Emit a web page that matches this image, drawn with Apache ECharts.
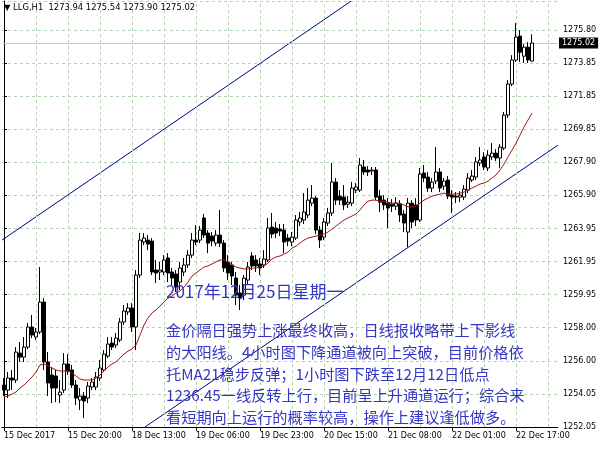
<!DOCTYPE html>
<html><head><meta charset="utf-8">
<script src="https://cdn.jsdelivr.net/npm/echarts@6/dist/echarts.min.js"></script>
<style>html,body{margin:0;padding:0;background:#fff}#c{width:600px;height:450px}</style>
</head><body><div id="c"></div>
<script>
// ---- data (H1 bars, LLG) ----
const barOpen = [1254.56,1254.26,1254.98,1254.86,1256.47,1256.23,1256.83,1258.03,1257.43,1257.73,1259.52,1255.94,1255.16,1255.10,1253.96,1254.26,1255.82,1255.46,1254.56,1253.66,1253.90,1253.78,1254.44,1254.44,1254.98,1255.46,1256.29,1257.07,1256.95,1257.25,1258.33,1258.93,1259.17,1258.03,1261.14,1263.11,1263.23,1263.17,1261.44,1261.32,1261.32,1262.16,1261.32,1261.20,1260.72,1261.32,1261.74,1262.33,1263.23,1263.23,1264.55,1263.65,1263.47,1263.05,1263.53,1263.05,1261.92,1261.74,1260.96,1260.06,1259.94,1260.84,1262.28,1262.04,1261.80,1261.74,1262.04,1264.01,1263.95,1263.89,1263.83,1263.35,1263.11,1263.35,1264.31,1264.43,1264.73,1265.44,1265.74,1263.83,1263.41,1264.25,1264.85,1266.70,1265.86,1265.80,1265.38,1265.44,1266.22,1266.22,1267.60,1267.42,1267.36,1267.42,1265.86,1265.62,1265.44,1265.38,1265.26,1265.38,1264.79,1263.71,1265.44,1265.33,1264.43,1267.24,1267.00,1266.34,1266.76,1267.30,1266.46,1266.82,1265.92,1265.86,1265.80,1265.80,1266.22,1266.82,1267.00,1267.84,1268.20,1267.54,1268.20,1268.43,1268.14,1268.73,1270.71,1272.56,1274.00,1275.43,1274.23,1274.77,1273.94];
const barClose = [1254.26,1254.98,1254.86,1256.53,1256.23,1256.83,1258.03,1257.55,1257.73,1259.52,1255.94,1254.68,1254.38,1254.38,1254.14,1255.82,1255.40,1254.56,1253.78,1253.90,1253.60,1254.50,1254.74,1255.04,1255.58,1256.41,1257.01,1256.83,1257.37,1258.33,1258.99,1259.17,1258.03,1261.14,1263.23,1263.35,1262.99,1261.32,1261.26,1261.44,1262.04,1261.26,1260.96,1260.42,1261.56,1261.74,1262.33,1263.23,1263.11,1263.83,1263.53,1263.05,1263.17,1263.53,1263.05,1261.56,1261.26,1261.08,1259.94,1259.76,1260.96,1261.62,1261.68,1261.68,1261.56,1262.10,1263.95,1263.59,1263.65,1263.77,1263.11,1263.17,1263.41,1264.43,1264.55,1264.91,1265.62,1265.74,1263.83,1263.23,1264.31,1264.85,1266.70,1265.62,1265.62,1265.33,1265.50,1266.34,1266.40,1267.72,1267.30,1267.30,1267.42,1265.80,1265.50,1265.33,1265.15,1265.26,1265.44,1264.73,1264.25,1265.44,1264.31,1264.43,1267.18,1266.94,1266.34,1266.70,1267.30,1266.34,1266.76,1265.86,1265.80,1265.80,1265.92,1266.28,1266.94,1267.06,1267.90,1268.02,1267.60,1268.31,1268.43,1268.14,1268.79,1270.71,1272.56,1274.00,1275.37,1274.47,1274.77,1274.00,1275.02];
const barLow = [1253.90,1253.78,1254.26,1254.68,1255.94,1255.94,1256.71,1257.37,1257.25,1257.61,1255.46,1253.90,1253.48,1253.54,1253.48,1254.08,1255.16,1254.38,1253.36,1253.07,1252.59,1253.48,1254.26,1254.26,1254.80,1255.34,1256.18,1256.65,1256.77,1257.13,1258.15,1258.75,1257.73,1256.65,1260.96,1262.93,1262.63,1261.14,1260.66,1260.84,1261.14,1260.72,1260.54,1260.12,1260.24,1261.08,1261.56,1262.16,1262.93,1263.05,1263.35,1262.45,1262.87,1262.87,1262.81,1261.32,1260.84,1260.54,1259.35,1259.05,1259.64,1260.60,1261.44,1261.32,1261.14,1261.56,1261.92,1263.35,1263.35,1263.47,1262.45,1262.87,1262.87,1263.23,1264.07,1264.19,1264.55,1265.26,1263.59,1262.75,1263.23,1264.07,1264.67,1265.33,1265.33,1265.03,1265.15,1265.26,1266.04,1266.10,1267.12,1267.06,1267.12,1265.62,1264.91,1265.03,1263.95,1264.91,1265.03,1264.31,1263.71,1262.81,1263.95,1264.07,1264.31,1266.70,1266.10,1266.10,1266.58,1266.10,1266.22,1265.68,1264.85,1265.44,1265.50,1265.62,1266.04,1266.70,1266.82,1267.66,1267.42,1267.36,1268.02,1267.96,1267.54,1268.61,1270.53,1272.44,1273.88,1273.88,1273.82,1273.82,1273.90];
const barHigh = [1254.98,1255.34,1255.46,1256.83,1257.13,1257.43,1258.27,1258.75,1257.97,1261.62,1259.76,1256.53,1255.64,1255.46,1254.86,1256.47,1256.41,1255.76,1254.86,1254.38,1254.14,1254.74,1254.98,1255.34,1256.06,1256.65,1257.43,1257.43,1257.67,1258.57,1259.35,1259.46,1259.46,1261.44,1263.65,1263.65,1263.53,1263.35,1262.04,1261.92,1262.33,1262.45,1261.56,1261.44,1261.92,1262.16,1262.63,1263.65,1264.13,1264.07,1264.79,1263.83,1263.71,1263.83,1265.03,1263.23,1262.33,1261.92,1261.32,1260.54,1261.14,1261.92,1262.51,1262.33,1262.16,1262.63,1264.55,1264.85,1264.31,1264.19,1264.19,1263.59,1263.71,1264.73,1264.91,1266.04,1266.34,1266.52,1265.86,1264.07,1264.55,1265.15,1267.84,1266.94,1266.22,1266.52,1265.86,1266.70,1266.64,1268.14,1268.02,1267.66,1267.60,1267.60,1266.22,1265.92,1265.74,1265.68,1265.80,1265.62,1265.03,1265.74,1265.62,1265.74,1267.54,1267.72,1267.30,1266.94,1268.79,1267.54,1266.94,1267.06,1266.22,1266.10,1266.16,1266.52,1267.24,1267.42,1268.20,1268.79,1268.49,1268.61,1269.03,1268.67,1268.97,1270.89,1272.80,1274.29,1276.21,1275.79,1274.95,1275.07,1275.54];
const ma21 = [1253.84,1253.90,1254.02,1254.14,1254.38,1254.56,1254.80,1255.04,1255.34,1255.76,1255.82,1255.70,1255.58,1255.46,1255.40,1255.40,1255.40,1255.28,1255.10,1254.92,1254.86,1254.86,1254.86,1254.98,1255.16,1255.40,1255.64,1255.82,1255.94,1256.18,1256.41,1256.59,1256.71,1256.95,1257.55,1258.15,1258.57,1258.87,1259.05,1259.29,1259.52,1259.76,1259.88,1260.06,1260.18,1260.42,1260.72,1261.08,1261.26,1261.44,1261.62,1261.68,1261.80,1261.92,1262.04,1262.04,1261.92,1261.74,1261.62,1261.56,1261.50,1261.50,1261.56,1261.56,1261.62,1261.68,1261.86,1262.10,1262.22,1262.28,1262.39,1262.51,1262.75,1262.87,1263.05,1263.23,1263.35,1263.41,1263.47,1263.53,1263.59,1263.71,1263.89,1264.07,1264.25,1264.43,1264.55,1264.67,1264.79,1265.03,1265.33,1265.56,1265.62,1265.62,1265.56,1265.56,1265.50,1265.44,1265.44,1265.44,1265.33,1265.21,1265.21,1265.26,1265.44,1265.62,1265.74,1265.86,1265.92,1265.98,1266.04,1265.98,1265.98,1265.98,1266.04,1266.10,1266.22,1266.34,1266.46,1266.58,1266.64,1266.76,1266.94,1267.12,1267.42,1267.78,1268.20,1268.61,1269.03,1269.51,1269.99,1270.41,1270.83];
// channel lines: [bar position, price]
const channelUpper = [[-0.5, 1263.23], [86.75, 1277.52]];
const channelLower = [[35.25, 1252.05], [138.5, 1268.91]];
const totalSlots = 139;
const yTickLabels = ["1252.05","1254.05","1256.00","1258.00","1259.95","1261.95","1263.95","1265.90","1267.90","1269.85","1271.85","1273.85","1275.80"];
const yMin = 1252.05, yMax = 1277.53, yStep = (1275.80 - 1252.05) / 12;
const xTickBars = [0,16,32,48,64,80,96,112,128];
const xTickLabels = ["15 Dec 2017","15 Dec 20:00","18 Dec 13:00","19 Dec 06:00","19 Dec 23:00","20 Dec 15:00","21 Dec 08:00","22 Dec 01:00","22 Dec 17:00"];
const gridBars = [8,16,24,32,40,48,56,64,72,80,88,96,104,112,120,128,136];
const symbolName = "LLG,H1";
const headline = "2017年12月25日星期一";
const bodyLines = [
  "金价隔日强势上涨最终收高，日线报收略带上下影线",
  "的大阳线。4小时图下降通道被向上突破，目前价格依",
  "托MA21稳步反弹；1小时图下跌至12月12日低点",
  "1236.45一线反转上行，目前呈上升通道运行；综合来",
  "看短期向上运行的概率较高，操作上建议逢低做多。"
];

// ---- build ----
const n = barOpen.length;
const cats = [];
for (let i = 0; i < totalSlots; i++) cats.push(String(i));
const candles = barOpen.map((o, i) => [o, barClose[i], barLow[i], barHigh[i]]);
const last = n - 1;
const fmt = v => v.toFixed(2);
const titleText = "\u25BC " + symbolName + "  " + fmt(barOpen[last]) + " " + fmt(barHigh[last]) + " " + fmt(barLow[last]) + " " + fmt(barClose[last]);

const AX_FONT = { fontFamily: 'DejaVu Sans', fontSize: 8, color: '#000' };
const GRID_COLOR = '#b5d3b5';
const TXT_COLOR = '#3535c5';

const chart = echarts.init(document.getElementById('c'), null, { renderer: 'canvas' });
const graphics = [
  { type: 'text', left: 4, top: 4, z: 100, style: { text: titleText, font: '8.4px "DejaVu Sans"', fill: '#000' } },
  { type: 'text', left: 166, top: 283, z: 100, style: { text: headline, font: '17px "Noto Sans CJK SC"', fill: TXT_COLOR } }
];
bodyLines.forEach((t, k) => {
  graphics.push({ type: 'text', left: 166, top: 323 + k * 21.7, z: 100, style: { text: t, font: '15.2px "Noto Sans CJK SC"', fill: TXT_COLOR } });
});

chart.setOption({
  animation: false,
  backgroundColor: '#fff',
  grid: { left: 2, right: 42, top: 1, bottom: 23, show: true, borderColor: '#000', borderWidth: 0 },
  xAxis: [{
    type: 'category', data: cats, boundaryGap: true,
    axisLine: { show: true, lineStyle: { color: '#000', width: 1 } },
    axisTick: { show: true, alignWithLabel: true, length: 4, lineStyle: { color: '#000' },
      interval: (idx) => xTickBars.indexOf(idx) >= 0 },
    axisLabel: Object.assign({ show: true, align: 'left', margin: 5,
      interval: (idx) => xTickBars.indexOf(idx) >= 0,
      formatter: (v, idx) => { const k = xTickBars.indexOf(Number(v)); return k >= 0 ? xTickLabels[k] : ''; } }, AX_FONT),
    splitLine: { show: false }
  }, {
    type: 'value', min: -0.5, max: totalSlots - 0.5, show: false
  }],
  yAxis: {
    type: 'value', position: 'right', min: yMin, max: yMax, interval: yStep,
    axisLine: { show: true, lineStyle: { color: '#000', width: 1 } },
    axisTick: { show: true, length: 3, inside: false, lineStyle: { color: '#000' } },
    axisLabel: Object.assign({ margin: 5, showMaxLabel: false,
      formatter: (v) => { const k = Math.round((v - yMin) / yStep); return (Math.abs(v - (yMin + k * yStep)) < 1e-6 && yTickLabels[k]) ? yTickLabels[k] : ''; } }, AX_FONT),
    splitLine: { show: true, lineStyle: { color: GRID_COLOR, type: [3, 3], width: 1 } }
  },
  graphic: graphics,
  series: [
    {
      type: 'line', xAxisIndex: 0, data: [], silent: true, z: 1,
      markLine: { silent: true, symbol: 'none', label: { show: false },
        lineStyle: { color: GRID_COLOR, type: [3, 3], width: 1 },
        data: gridBars.map(b => ({ xAxis: String(b) })) }
    },
    {
      type: 'candlestick', xAxisIndex: 0, data: candles, barWidth: 3, z: 5,
      itemStyle: { color: '#fff', color0: '#000', borderColor: '#000', borderColor0: '#000', borderWidth: 1 }
    },
    {
      type: 'line', xAxisIndex: 0, data: ma21, symbol: 'none', z: 6,
      lineStyle: { color: '#a01818', width: 1 },
      markLine: { silent: true, symbol: 'none',
        lineStyle: { color: '#a6dca6', type: 'solid', width: 1 },
        label: { show: true, position: 'end', distance: 1, formatter: () => fmt(barClose[last]),
          backgroundColor: '#000', color: '#fff', fontFamily: 'DejaVu Sans', fontSize: 8, padding: [2, 3, 1, 3] },
        data: [{ yAxis: barClose[last] }] }
    },
    { type: 'line', xAxisIndex: 1, data: channelUpper, symbol: 'none', z: 4, lineStyle: { color: '#000080', width: 1 } },
    { type: 'line', xAxisIndex: 1, data: channelLower, symbol: 'none', z: 4, lineStyle: { color: '#000080', width: 1 } }
  ]
});
</script></body></html>
